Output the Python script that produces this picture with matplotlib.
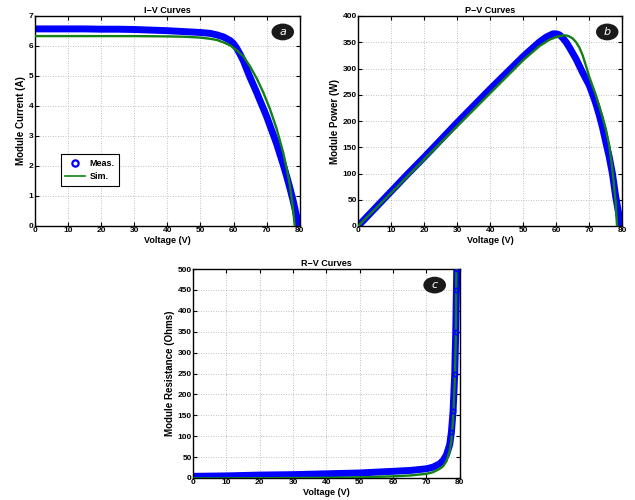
import matplotlib
matplotlib.use('Agg')
import matplotlib.pyplot as plt
from matplotlib.patches import Ellipse
from matplotlib.lines import Line2D

plt.rcParams['font.family'] = ['Liberation Sans', 'DejaVu Sans']
plt.rcParams['font.weight'] = 'bold'

# I-V data (measured / simulated)
v_meas = [0, 5, 10, 15, 20, 25, 30, 35, 40, 45, 50, 53, 55, 57, 59, 60, 61, 62, 63, 64,
          65, 66, 67, 68, 69, 70, 71, 72, 73, 74, 75, 76, 77, 78, 79, 79.5]
i_meas = [6.57, 6.57, 6.57, 6.57, 6.56, 6.56, 6.55, 6.53, 6.51, 6.48, 6.45, 6.42, 6.37,
          6.30, 6.18, 6.08, 5.92, 5.72, 5.50, 5.22, 4.95, 4.70, 4.45, 4.18, 3.92, 3.65,
          3.35, 3.05, 2.75, 2.40, 2.05, 1.68, 1.28, 0.85, 0.35, 0.0]
v_sim = [0, 10, 20, 30, 40, 45, 50, 53, 55, 57, 59, 61, 63, 65, 67, 69, 71, 73, 75, 76,
         77, 78, 78.5]
i_sim = [6.33, 6.33, 6.33, 6.33, 6.32, 6.31, 6.28, 6.24, 6.20, 6.12, 6.02, 5.85, 5.65,
         5.32, 4.92, 4.45, 3.90, 3.25, 2.45, 1.95, 1.38, 0.55, 0.0]

# P-V data
p_meas = [0, 33, 66, 99, 131, 164, 197, 229, 261, 292, 323, 340, 351, 360, 366, 366, 364,
          358, 350, 340, 329, 318, 305, 292, 280, 268, 251, 233, 212, 188, 160, 133, 100,
          56, 20, 0]
vp_sim = [0, 10, 20, 30, 40, 50, 55, 58, 60, 62, 63, 64, 65, 66, 67, 68, 69, 70, 72, 74,
          75, 76, 77, 78, 78.4]
p_sim = [0, 63, 127, 190, 253, 316, 343, 355, 360, 363, 363, 361, 357, 350, 340, 325, 305,
         284, 249, 208, 185, 155, 108, 45, 0]

# R-V data
vr_meas = [0, 10, 20, 30, 40, 50, 60, 65, 70, 72, 74, 75, 76, 77, 77.5, 78, 78.5, 78.8, 79, 79.1]
r_meas = [4, 5, 7, 8, 10, 12, 16, 18, 22, 26, 34, 42, 55, 80, 110, 160, 250, 350, 450, 500]
vr_sim = [0, 10, 20, 30, 40, 50, 60, 65, 70, 72, 74, 75, 76, 77, 77.5, 78, 78.5, 78.8, 79]
r_sim = [-1, -1, -0.5, 0, 0.5, 1.5, 4, 6, 10, 14, 22, 28, 40, 65, 90, 140, 230, 330, 500]

blue = '#0000ff'
green = '#128012'

fig = plt.figure(figsize=(6.35, 5.0), dpi=100)
ax_a = fig.add_axes([0.055, 0.548, 0.417, 0.42])
ax_b = fig.add_axes([0.564, 0.548, 0.416, 0.42])
ax_c = fig.add_axes([0.304, 0.044, 0.42, 0.418])


def draw(ax, vm, ym, vs, ys, title, ylabel, ylim, yticks, badge, bx, by):
    ax.plot(vm, ym, color=blue, lw=5, solid_capstyle='round', solid_joinstyle='round',
            zorder=2)
    ax.plot(vs, ys, color=green, lw=1.7, zorder=3)
    ax.set_xlim(0, 80)
    ax.set_ylim(*ylim)
    ax.set_xticks(range(0, 81, 10))
    ax.set_yticks(yticks)
    ax.tick_params(direction='in', top=True, right=True, labelsize=6, length=3, pad=1)
    ax.grid(True, linestyle=(0, (1, 2)), color='#aaaaaa', lw=0.6)
    ax.set_axisbelow(True)
    for s in ax.spines.values():
        s.set_linewidth(1.0)
    ax.set_title(title, fontsize=6.5, fontweight='bold', pad=2)
    ax.set_xlabel('Voltage (V)', fontsize=6.5, fontweight='bold', labelpad=1)
    ax.set_ylabel(ylabel, fontsize=7, fontweight='bold', labelpad=2)
    ax.add_patch(Ellipse((bx, by), 0.085, 0.08, transform=ax.transAxes,
                         facecolor='#1a1a1a', edgecolor='none', zorder=5))
    ax.text(bx, by, badge, transform=ax.transAxes, color='white', style='italic',
            fontweight='normal', fontsize=8, ha='center', va='center', zorder=6,
            family='DejaVu Sans')


draw(ax_a, v_meas, i_meas, v_sim, i_sim, 'I\u2212V Curves', 'Module Current (A)',
     (0, 7), range(0, 8), 'a', 0.936, 0.924)
draw(ax_b, v_meas, p_meas, vp_sim, p_sim, 'P\u2212V Curves', 'Module Power (W)',
     (0, 400), range(0, 401, 50), 'b', 0.943, 0.924)
draw(ax_c, vr_meas, r_meas, vr_sim, r_sim, 'R\u2212V Curves', 'Module Resistance (Ohms)',
     (0, 500), range(0, 501, 50), 'c', 0.906, 0.923)
# measured points along the vertical rise of the R-V curve
ax_c.plot(vr_meas[-6:], r_meas[-6:], 'o', color=blue, mfc='none', ms=3, mew=1.2, zorder=4)

handles = [Line2D([], [], marker='o', ls='none', color=blue, mfc='none', ms=4.5, mew=1.6),
           Line2D([], [], color=green, lw=1.2)]
leg = ax_a.legend(handles, ['Meas.', 'Sim.'], loc='lower left',
                  bbox_to_anchor=(0.08, 0.17), fontsize=6.5, fancybox=False,
                  framealpha=1, edgecolor='black', handlelength=2.2,
                  borderpad=0.5, labelspacing=0.5, handletextpad=0.5)
leg.get_frame().set_linewidth(0.8)

fig.savefig('out.png', dpi=100)
